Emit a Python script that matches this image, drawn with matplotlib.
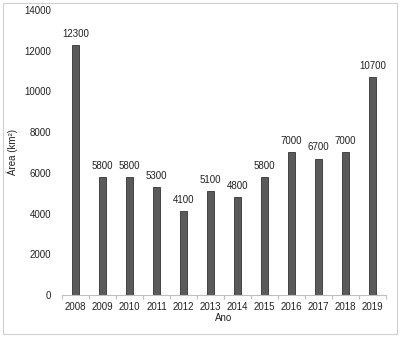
import matplotlib.pyplot as plt
from matplotlib.patches import Rectangle
import numpy as np

plt.rcParams['font.family'] = ['Liberation Sans', 'DejaVu Sans']

# data
years = ['2008', '2009', '2010', '2011', '2012', '2013',
         '2014', '2015', '2016', '2017', '2018', '2019']
area = [12300, 5800, 5800, 5300, 4100, 5100, 4800, 5800, 7000, 6700, 7000, 10700]

fig = plt.figure(figsize=(4.0, 3.37), dpi=100)
ax = fig.add_axes([0.155, 0.125, 0.81, 0.845])

x = np.arange(len(years))
ax.bar(x, area, width=0.26, color='#5a5a5a', edgecolor='#333333', linewidth=0.6)

for xi, v in zip(x, area):
    ax.text(xi, v + 300, str(v), ha='center', va='bottom', fontsize=7, color='#222222')

ax.set_xlim(-0.5, len(years) - 0.5)
ax.set_ylim(0, 14000)
ax.set_yticks(np.arange(0, 14001, 2000))
ax.set_xticks(x)
ax.set_xticklabels(years)
ax.set_xticks(np.arange(-0.5, len(years), 1), minor=True)
ax.tick_params(axis='x', which='major', length=0, labelsize=7, pad=5, colors='#222222')
ax.tick_params(axis='x', which='minor', length=3, color='#bfbfbf', width=0.8)
ax.tick_params(axis='y', length=0, labelsize=7, pad=8, colors='#222222')

for s in ['top', 'right', 'left']:
    ax.spines[s].set_visible(False)
ax.spines['bottom'].set_color('#bfbfbf')
ax.spines['bottom'].set_linewidth(0.8)

ax.set_xlabel('Ano', fontsize=7, labelpad=1, color='#222222')
ax.set_ylabel('Área (km²)', fontsize=7, labelpad=4, color='#222222')

# outer frame
fig.patches.append(Rectangle((0.008, 0.01), 0.984, 0.982, transform=fig.transFigure,
                             fill=False, edgecolor='#d0d0d0', linewidth=0.8))

fig.savefig('out.png', dpi=100)
